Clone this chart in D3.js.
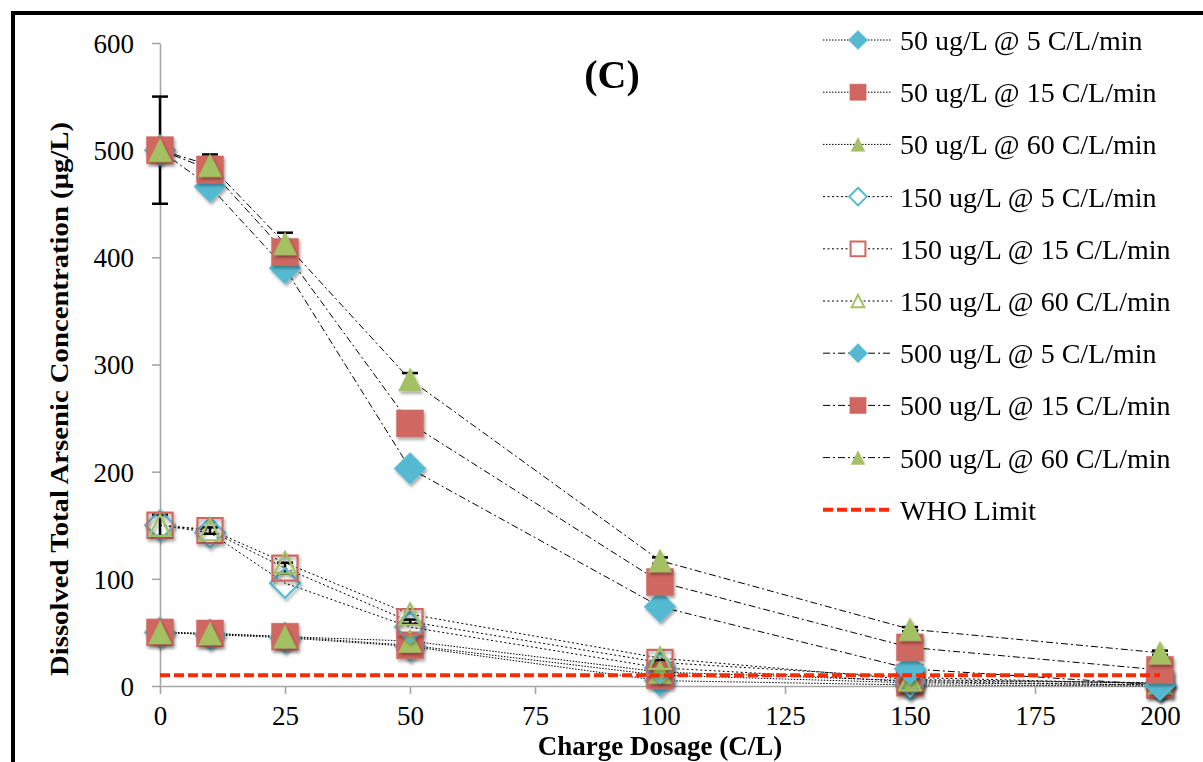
<!DOCTYPE html>
<html>
<head>
<meta charset="utf-8">
<script src="https://cdn.jsdelivr.net/npm/d3@7"></script>
<style>
  body { margin: 0; background: #fff; }
  svg { display: block; }
</style>
</head>
<body>
<svg id="chart" width="1203" height="762"></svg>
<script>
// Charge dosage (C/L) at which samples were taken
const dosage = [0, 10, 25, 50, 100, 150, 200];

// Series labels
const seriesNames = [
  "50 ug/L @ 5 C/L/min", "50 ug/L @ 15 C/L/min", "50 ug/L @ 60 C/L/min",
  "150 ug/L @ 5 C/L/min", "150 ug/L @ 15 C/L/min", "150 ug/L @ 60 C/L/min",
  "500 ug/L @ 5 C/L/min", "500 ug/L @ 15 C/L/min", "500 ug/L @ 60 C/L/min"
];

// Dissolved total arsenic (µg/L)
const as50_5   = [50, 48, 45, 37, 5, 1, 0];
const as50_15  = [50, 49, 46, 38, 10, 3, 1];
const as50_60  = [50, 49, 46, 42, 13, 5, 3];
const as150_5  = [150, 143, 96, 55, 17, 4, 1];
const as150_15 = [150, 145, 110, 60, 22, 8, 2];
const as150_60 = [150, 146, 115, 67, 26, 6, 3];
const as500_5  = [500, 466, 390, 203, 74, 16, 1];
const as500_15 = [500, 482, 405, 245, 97, 36, 15];
const as500_60 = [500, 486, 413, 286, 117, 53, 31];

// Standard deviations shown as error bars
const err150_15 = [10, 3, 5, 2, 2, 1, 1];
const err500_60 = [50, 10, 10, 6, 3, 2, 2];

const whoLimit = 10;
const yTicks = [0, 100, 200, 300, 400, 500, 600];
const xTicks = [0, 25, 50, 75, 100, 125, 150, 175, 200];

const titleText = "(C)";
const xTitle = "Charge Dosage (C/L)";
const yTitle = "Dissolved Total Arsenic Concentration (\u03bcg/L)";
const whoLabel = "WHO Limit";

// ---- styling ----
const BLUE = "#55b9d1", RED = "#cf6760", GREEN = "#a3c063";
const FONT = "'Liberation Serif', 'Times New Roman', serif";
const dash50 = "1.5,1.5", dash150 = "2,2.5", dash500 = "7,3,2,3";

const seriesValues = [as50_5, as50_15, as50_60, as150_5, as150_15, as150_60, as500_5, as500_15, as500_60];
const seriesStyle = [
  { color: BLUE,  shape: "diamond",  hollow: false, dash: dash50 },
  { color: RED,   shape: "square",   hollow: false, dash: dash50 },
  { color: GREEN, shape: "triangle", hollow: false, dash: dash50 },
  { color: BLUE,  shape: "diamond",  hollow: true,  dash: dash150 },
  { color: RED,   shape: "square",   hollow: true,  dash: dash150 },
  { color: GREEN, shape: "triangle", hollow: true,  dash: dash150 },
  { color: BLUE,  shape: "diamond",  hollow: false, dash: dash500 },
  { color: RED,   shape: "square",   hollow: false, dash: dash500 },
  { color: GREEN, shape: "triangle", hollow: false, dash: dash500 }
];
const seriesErr = [null, null, null, null, err150_15, null, null, null, err500_60];

const series = seriesNames.map((name, i) => ({
  name,
  points: dosage.map((d, j) => ({ x: d, y: seriesValues[i][j], e: seriesErr[i] ? seriesErr[i][j] : null })),
  ...seriesStyle[i]
}));

const svg = d3.select("#chart");

// marker shadow
const defs = svg.append("defs");
const f = defs.append("filter").attr("id", "shadow")
  .attr("x", "-50%").attr("y", "-50%").attr("width", "200%").attr("height", "200%");
f.append("feDropShadow").attr("dx", 1.5).attr("dy", 2.5)
  .attr("stdDeviation", 1.6).attr("flood-color", "#000").attr("flood-opacity", 0.35);

// frame
svg.append("rect").attr("x", 13).attr("y", 13).attr("width", 1300).attr("height", 900)
  .attr("fill", "none").attr("stroke", "#000").attr("stroke-width", 4);

const x = d3.scaleLinear().domain([0, 200]).range([160, 1160]);
const y = d3.scaleLinear().domain([0, 600]).range([686, 43]);

function markerPath(shape, k) {
  if (shape === "diamond") {
    const r = 16 * k;
    return `M0,${-r}L${r},0L0,${r}L${-r},0Z`;
  }
  if (shape === "square") {
    const h = 13.5 * k;
    return `M${-h},${-h}H${h}V${h}H${-h}Z`;
  }
  const w = 11.5 * k, h = 11.5 * k;
  return `M0,${-h}L${w},${h}L${-w},${h}Z`;
}

// axes
const yAxis = svg.append("g").attr("transform", `translate(${x(0)},0)`)
  .call(d3.axisLeft(y).tickValues(yTicks).tickSize(8).tickSizeOuter(0).tickPadding(18));
const xAxis = svg.append("g").attr("transform", `translate(0,${y(0)})`)
  .call(d3.axisBottom(x).tickValues(xTicks).tickSize(8).tickSizeOuter(0).tickPadding(12));
[yAxis, xAxis].forEach(g => {
  g.selectAll("path, line").attr("stroke", "#a6a6a6").attr("stroke-width", 1.6);
  g.selectAll("text").attr("font-family", FONT).attr("font-size", 27).attr("fill", "#000");
});
yAxis.selectAll("text").attr("dy", "0.35em");

// series lines
const line = d3.line().x(d => x(d.x)).y(d => y(d.y));
svg.append("g").selectAll("path").data(series).join("path")
  .attr("d", d => line(d.points))
  .attr("fill", "none").attr("stroke", "#000").attr("stroke-width", 1)
  .attr("stroke-dasharray", d => d.dash);

// error bars
const eg = svg.append("g").attr("stroke", "#000").attr("stroke-width", 2.5);
series.filter(s => s.points[0].e !== null).forEach(s => {
  s.points.forEach(p => {
    eg.append("line").attr("x1", x(p.x)).attr("x2", x(p.x))
      .attr("y1", y(p.y - p.e)).attr("y2", y(p.y + p.e));
    [p.y - p.e, p.y + p.e].forEach(v => {
      eg.append("line").attr("x1", x(p.x) - 8).attr("x2", x(p.x) + 8)
        .attr("y1", y(v)).attr("y2", y(v));
    });
  });
});

// markers
series.forEach(s => {
  svg.append("g").attr("filter", "url(#shadow)")
    .selectAll("path").data(s.points).join("path")
    .attr("transform", d => `translate(${x(d.x)},${y(d.y)})`)
    .attr("d", markerPath(s.shape, s.hollow ? 0.93 : 1))
    .attr("fill", s.hollow ? "none" : s.color)
    .attr("stroke", s.color)
    .attr("stroke-width", s.hollow ? 2.2 : 0.8)
    .attr("stroke-opacity", s.hollow ? 1 : 0.6);
});

// WHO limit
svg.append("line")
  .attr("x1", x(0)).attr("x2", x(200)).attr("y1", y(whoLimit)).attr("y2", y(whoLimit))
  .attr("stroke", "#ff2a00").attr("stroke-width", 4).attr("stroke-dasharray", "10,4");

// titles
svg.append("text").attr("x", 612).attr("y", 88).attr("text-anchor", "middle")
  .attr("font-family", FONT).attr("font-weight", "bold").attr("font-size", 40).text(titleText);
svg.append("text").attr("x", 660).attr("y", 755).attr("text-anchor", "middle")
  .attr("font-family", FONT).attr("font-weight", "bold").attr("font-size", 27).text(xTitle);
svg.append("text").attr("transform", "translate(68,399) rotate(-90)").attr("text-anchor", "middle")
  .attr("font-family", FONT).attr("font-weight", "bold").attr("font-size", 26)
  .attr("textLength", 554).attr("lengthAdjust", "spacingAndGlyphs").text(yTitle);

// legend
const legend = svg.append("g");
const rowY = i => 40 + i * 52.2;
series.forEach((s, i) => {
  const g = legend.append("g").attr("transform", `translate(0,${rowY(i)})`);
  g.append("line").attr("x1", 823).attr("x2", 892).attr("y1", 0).attr("y2", 0)
    .attr("stroke", "#000").attr("stroke-width", 1).attr("stroke-dasharray", s.dash);
  g.append("path").attr("transform", "translate(858,0)")
    .attr("d", markerPath(s.shape, s.hollow ? 0.55 : 0.6))
    .attr("fill", s.hollow ? "#fff" : s.color).attr("stroke", s.color)
    .attr("stroke-width", s.hollow ? 2 : 0.5);
  g.append("text").attr("x", 900).attr("y", 10)
    .attr("font-family", FONT).attr("font-size", 28).text(s.name);
});
const wg = legend.append("g").attr("transform", `translate(0,${rowY(9)})`);
wg.append("line").attr("x1", 823).attr("x2", 893).attr("y1", 0).attr("y2", 0)
  .attr("stroke", "#ff2a00").attr("stroke-width", 4).attr("stroke-dasharray", "10,4");
wg.append("text").attr("x", 900).attr("y", 10)
  .attr("font-family", FONT).attr("font-size", 28).text(whoLabel);
</script>
</body>
</html>
